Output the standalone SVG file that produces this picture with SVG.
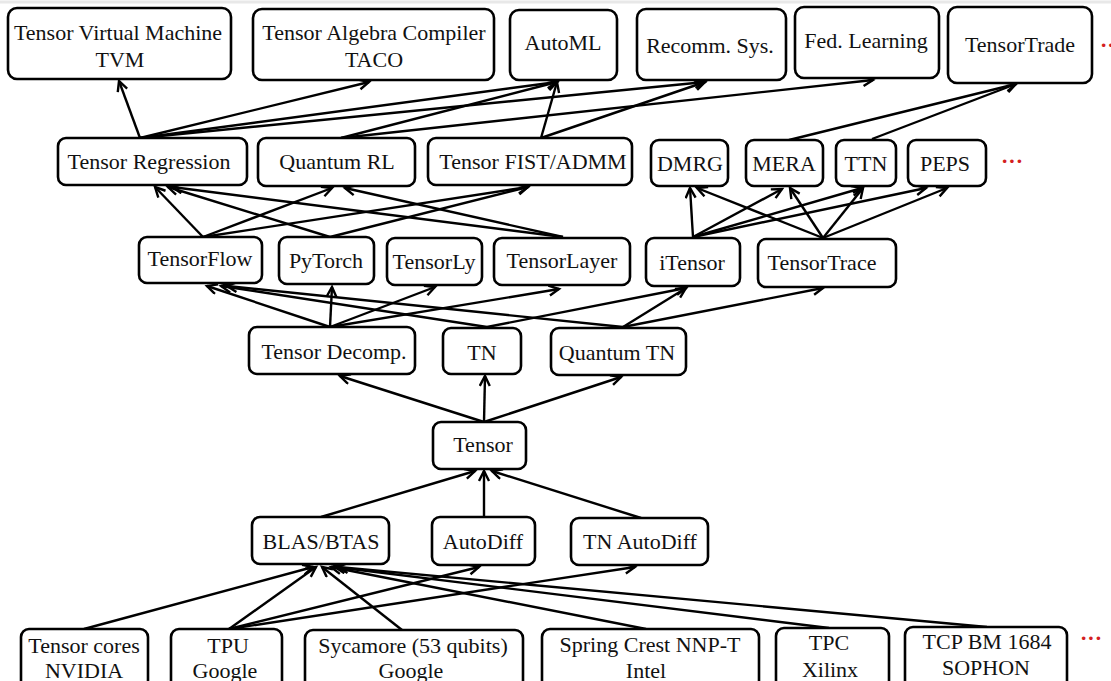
<svg xmlns="http://www.w3.org/2000/svg" width="1111" height="681" viewBox="0 0 1111 681">
<style>
.b{fill:#fff;stroke:#000;stroke-width:2.6}
.t{font-family:"Liberation Serif","Times New Roman",serif;font-size:22px;fill:#111;text-anchor:middle}
.e{stroke:#000;stroke-width:2.4;fill:none;marker-end:url(#ah)}
.dots{font-family:"Liberation Serif",serif;font-size:22px;font-weight:bold;fill:#d42020}
</style>
<defs>
<marker id="ah" markerUnits="userSpaceOnUse" markerWidth="14" markerHeight="14" refX="11" refY="6" orient="auto">
<path d="M1,1 L11,6 L1,11" fill="none" stroke="#000" stroke-width="2.4"/>
</marker>
</defs>
<rect width="1111" height="681" fill="#fff"/>
<line x1="0" y1="2" x2="1111" y2="2" stroke="#e8e8e8" stroke-width="3"/>

<g id="connectors">
<line class="e" x1="140" y1="138" x2="119" y2="81"/>
<line class="e" x1="140" y1="138" x2="369" y2="82"/>
<line class="e" x1="140" y1="138" x2="557" y2="82"/>
<line class="e" x1="140" y1="138" x2="705" y2="82"/>
<line class="e" x1="341" y1="138" x2="557" y2="82"/>
<line class="e" x1="341" y1="138" x2="873" y2="80"/>
<line class="e" x1="541" y1="138" x2="557" y2="82"/>
<line class="e" x1="541" y1="138" x2="705" y2="82"/>
<line class="e" x1="789" y1="140" x2="1016" y2="84"/>
<line class="e" x1="872" y1="139" x2="1016" y2="84"/>

<line class="e" x1="203" y1="237" x2="155" y2="187"/>
<line class="e" x1="203" y1="237" x2="332" y2="188"/>
<line class="e" x1="203" y1="237" x2="528" y2="187"/>
<line class="e" x1="330" y1="237" x2="168" y2="187"/>
<line class="e" x1="330" y1="237" x2="528" y2="187"/>
<line class="e" x1="563" y1="237" x2="172" y2="187"/>
<line class="e" x1="563" y1="237" x2="345" y2="188"/>
<line class="e" x1="693" y1="237" x2="690" y2="188"/>
<line class="e" x1="693" y1="237" x2="782" y2="189"/>
<line class="e" x1="693" y1="237" x2="862" y2="188"/>
<line class="e" x1="693" y1="237" x2="926" y2="188"/>
<line class="e" x1="823" y1="238" x2="697" y2="188"/>
<line class="e" x1="823" y1="238" x2="790" y2="188"/>
<line class="e" x1="823" y1="238" x2="863" y2="188"/>
<line class="e" x1="823" y1="238" x2="947" y2="188"/>

<line class="e" x1="330" y1="327" x2="207" y2="286"/>
<line class="e" x1="330" y1="327" x2="332" y2="287"/>
<line class="e" x1="330" y1="327" x2="435" y2="287"/>
<line class="e" x1="330" y1="327" x2="559" y2="289"/>
<line class="e" x1="487" y1="327" x2="221" y2="286"/>
<line class="e" x1="487" y1="327" x2="686" y2="288"/>
<line class="e" x1="623" y1="327" x2="227" y2="286"/>
<line class="e" x1="623" y1="327" x2="686" y2="288"/>
<line class="e" x1="623" y1="327" x2="823" y2="288"/>

<line class="e" x1="484" y1="422" x2="340" y2="376"/>
<line class="e" x1="484" y1="422" x2="485" y2="376"/>
<line class="e" x1="484" y1="422" x2="621" y2="377"/>

<line class="e" x1="321" y1="517" x2="475" y2="471"/>
<line class="e" x1="484" y1="517" x2="484" y2="471"/>
<line class="e" x1="641" y1="518" x2="492" y2="471"/>

<line class="e" x1="84" y1="629" x2="313" y2="567"/>
<line class="e" x1="229" y1="629" x2="316" y2="567"/>
<line class="e" x1="229" y1="629" x2="479" y2="567"/>
<line class="e" x1="229" y1="629" x2="635" y2="567"/>
<line class="e" x1="402" y1="630" x2="322" y2="567"/>
<line class="e" x1="646" y1="629" x2="331" y2="567"/>
<line class="e" x1="829" y1="628" x2="335" y2="567"/>
<line class="e" x1="987" y1="627" x2="338" y2="567"/>
</g>

<g id="n-tvm"><rect class="b" x="8" y="8" width="223" height="71" rx="9"/><text class="t" x="118" y="40">Tensor Virtual Machine</text><text class="t" x="120" y="67">TVM</text></g>
<g id="n-taco"><rect class="b" x="253" y="9" width="241" height="71" rx="9"/><text class="t" x="374" y="40">Tensor Algebra Compiler</text><text class="t" x="374" y="67">TACO</text></g>
<g id="n-automl"><rect class="b" x="510" y="10" width="107" height="70" rx="9"/><text class="t" x="563" y="50">AutoML</text></g>
<g id="n-recomm"><rect class="b" x="637" y="9" width="149" height="71" rx="9"/><text class="t" x="710" y="53">Recomm. Sys.</text></g>
<g id="n-fed"><rect class="b" x="795" y="7" width="144" height="71" rx="9"/><text class="t" x="866" y="48">Fed. Learning</text></g>
<g id="n-ttrade"><rect class="b" x="948" y="7" width="144" height="76" rx="9"/><text class="t" x="1020" y="52">TensorTrade</text></g>
<text class="dots" x="1100" y="52">··</text>

<g id="n-treg"><rect class="b" x="58" y="138" width="189" height="47" rx="8"/><text class="t" x="149" y="169">Tensor Regression</text></g>
<g id="n-qrl"><rect class="b" x="258" y="138" width="157" height="48" rx="8"/><text class="t" x="337" y="169">Quantum RL</text></g>
<g id="n-fist"><rect class="b" x="428" y="138" width="204" height="47" rx="8"/><text class="t" x="533" y="169">Tensor FIST/ADMM</text></g>
<g id="n-dmrg"><rect class="b" x="651" y="140" width="77" height="46" rx="8"/><text class="t" x="690" y="171">DMRG</text></g>
<g id="n-mera"><rect class="b" x="746" y="140" width="77" height="46" rx="8"/><text class="t" x="784" y="171">MERA</text></g>
<g id="n-ttn"><rect class="b" x="836" y="140" width="60" height="46" rx="8"/><text class="t" x="866" y="171">TTN</text></g>
<g id="n-peps"><rect class="b" x="908" y="140" width="78" height="46" rx="8"/><text class="t" x="945" y="171">PEPS</text></g>
<text class="dots" x="1001" y="168">···</text>

<g id="n-tf"><rect class="b" x="139" y="237" width="123" height="46" rx="8"/><text class="t" x="200" y="266">TensorFlow</text></g>
<g id="n-pytorch"><rect class="b" x="279" y="237" width="95" height="47" rx="8"/><text class="t" x="326" y="268">PyTorch</text></g>
<g id="n-tensorly"><rect class="b" x="387" y="238" width="95" height="47" rx="8"/><text class="t" x="434" y="269">TensorLy</text></g>
<g id="n-tlayer"><rect class="b" x="494" y="238" width="136" height="47" rx="8"/><text class="t" x="562" y="268">TensorLayer</text></g>
<g id="n-itensor"><rect class="b" x="646" y="238" width="94" height="48" rx="8"/><text class="t" x="692" y="270">iTensor</text></g>
<g id="n-ttrace"><rect class="b" x="758" y="239" width="138" height="48" rx="8"/><text class="t" x="822" y="270">TensorTrace</text></g>

<g id="n-td"><rect class="b" x="249" y="327" width="166" height="47" rx="8"/><text class="t" x="334" y="359">Tensor Decomp.</text></g>
<g id="n-tn"><rect class="b" x="443" y="328" width="78" height="46" rx="8"/><text class="t" x="482" y="360">TN</text></g>
<g id="n-qtn"><rect class="b" x="551" y="328" width="135" height="47" rx="8"/><text class="t" x="617" y="360">Quantum TN</text></g>

<g id="n-tensor"><rect class="b" x="433" y="422" width="93" height="47" rx="8"/><text class="t" x="483" y="452">Tensor</text></g>

<g id="n-blas"><rect class="b" x="252" y="517" width="137" height="47" rx="8"/><text class="t" x="321" y="549">BLAS/BTAS</text></g>
<g id="n-autodiff"><rect class="b" x="432" y="517" width="103" height="48" rx="8"/><text class="t" x="483" y="549">AutoDiff</text></g>
<g id="n-tnautodiff"><rect class="b" x="571" y="518" width="137" height="47" rx="8"/><text class="t" x="640" y="549">TN AutoDiff</text></g>

<g id="n-nvidia"><rect class="b" x="21" y="629" width="127" height="70" rx="8"/><text class="t" x="84" y="653">Tensor cores</text><text class="t" x="84" y="678">NVIDIA</text></g>
<g id="n-tpu"><rect class="b" x="171" y="629" width="111" height="70" rx="8"/><text class="t" x="228" y="653">TPU</text><text class="t" x="225" y="678">Google</text></g>
<g id="n-sycamore"><rect class="b" x="305" y="630" width="218" height="70" rx="8"/><text class="t" x="413" y="653">Sycamore (53 qubits)</text><text class="t" x="411" y="678">Google</text></g>
<g id="n-spring"><rect class="b" x="542" y="629" width="217" height="70" rx="8"/><text class="t" x="650" y="652">Spring Crest NNP-T</text><text class="t" x="646" y="678">Intel</text></g>
<g id="n-tpc"><rect class="b" x="776" y="628" width="113" height="70" rx="8"/><text class="t" x="829" y="650">TPC</text><text class="t" x="830" y="677">Xilinx</text></g>
<g id="n-sophon"><rect class="b" x="905" y="627" width="162" height="70" rx="8"/><text class="t" x="987" y="649">TCP BM 1684</text><text class="t" x="986" y="675">SOPHON</text></g>
<text class="dots" x="1080" y="645">···</text>
</svg>
